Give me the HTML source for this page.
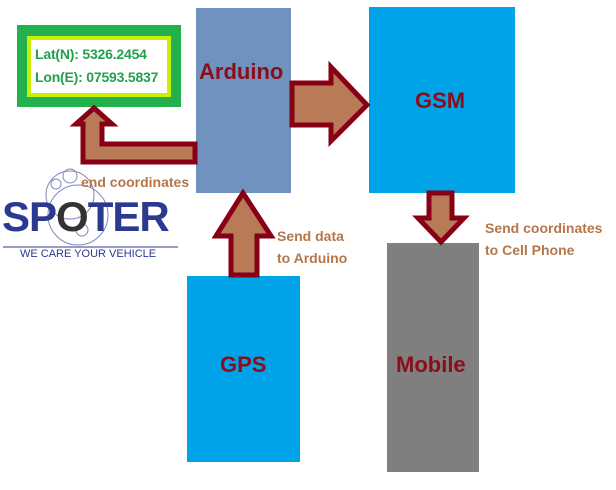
<!DOCTYPE html>
<html><head><style>
body{margin:0;width:616px;height:490px;background:#fff;position:relative;overflow:hidden;font-family:"Liberation Sans",Arial,sans-serif}
.b{position:absolute}
.t{position:absolute;font-weight:bold;color:#b5764a;font-size:14px;line-height:22px;font-family:"Liberation Sans Narrow","Liberation Sans",sans-serif}
.big{position:absolute;font-weight:bold;color:#8b0d1a;font-size:22px}
</style></head><body>
<div class="b" style="left:17px;top:25px;width:164px;height:82px;background:#22b14c"></div>
<div class="b" style="left:27px;top:36px;width:144px;height:61px;background:#c8f000"></div>
<div class="b" style="left:31px;top:40px;width:136px;height:53px;background:#fff"></div>
<div class="b" style="left:35px;top:43px;font-weight:bold;color:#22a04a;font-size:14px;line-height:23px;letter-spacing:-0.2px">Lat(N): 5326.2454<br>Lon(E): 07593.5837</div>
<div class="b" style="left:196px;top:8px;width:95px;height:185px;background:#7092be"></div>
<div class="big" style="left:199px;top:59px">Arduino</div>
<div class="b" style="left:369px;top:7px;width:146px;height:186px;background:#00a2e8"></div>
<div class="big" style="left:415px;top:88px">GSM</div>
<div class="b" style="left:387px;top:243px;width:92px;height:229px;background:#7f7f7f"></div>
<div class="big" style="left:396px;top:352px">Mobile</div>
<div class="b" style="left:187px;top:276px;width:113px;height:186px;background:#00a2e8"></div>
<div class="big" style="left:220px;top:352px">GPS</div>
<svg class="b" style="left:0;top:0" width="616" height="490">
<g fill="#b97a57" stroke="#880015" stroke-width="5" stroke-linejoin="miter">
<polygon points="292,83 331,83 331,67 367,105 331,141 331,125 292,125"/>
<polygon points="429,193 452,193 452,218 464,218 441,242 418,218 429,218"/>
<polygon points="231,275 257,275 257,236 271,236 243,193 216,236 231,236"/>
<polygon points="195,144 195,162 83,162 83,124 76,124 94,108 112,124 102,124 102,144"/>
</g>
<g fill="none" stroke="#2b3990" stroke-width="1" opacity="0.6">
<circle cx="70" cy="195" r="24"/><circle cx="78" cy="215" r="30"/><circle cx="70" cy="176" r="7"/><circle cx="56" cy="184" r="5"/><circle cx="82" cy="230" r="6"/>
</g>
<line x1="3" y1="247" x2="178" y2="247" stroke="#2b3990" stroke-width="1"/>
</svg>
<div class="t" style="left:81px;top:171px">end coordinates</div>
<div class="t" style="left:277px;top:225px">Send data<br>to Arduino</div>
<div class="t" style="left:485px;top:217px">Send coordinates<br>to Cell Phone</div>
<div class="b" style="left:2px;top:194px;font-weight:bold;color:#2b3990;font-size:42px;letter-spacing:-1px;line-height:46px">SP<span style="color:#333">O</span>TER</div>
<div class="b" style="left:20px;top:248px;color:#2b3990;font-size:11px">WE CARE YOUR VEHICLE</div>
</body></html>
